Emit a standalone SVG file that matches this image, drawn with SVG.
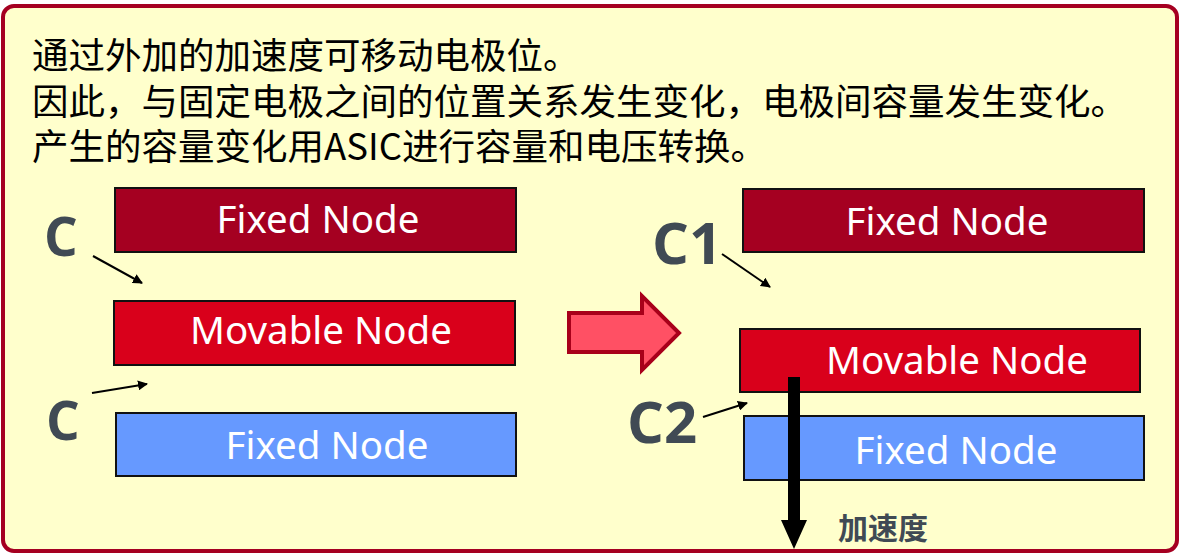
<svg xmlns="http://www.w3.org/2000/svg" width="1182" height="556" viewBox="0 0 1182 556">
  <defs>
    <marker id="tip" viewBox="0 0 10 10" refX="9" refY="5" markerWidth="5" markerHeight="5" markerUnits="strokeWidth" orient="auto">
      <path d="M0,0 L10,5 L0,10 z" fill="#000"/>
    </marker>
    <style>
      .frame { fill: #ffffcc; stroke: #a50021; stroke-width: 4; }
      .note { font-family: "Noto Sans CJK SC", "Noto Sans", sans-serif; font-size: 36.5px; fill: #000; }
      .box { stroke: #111; stroke-width: 2; }
      .fixed-top { fill: #a50021; }
      .movable { fill: #d9001b; }
      .fixed-bottom { fill: #6699ff; }
      .label { font-family: "Noto Sans", "Open Sans", sans-serif; font-size: 38.5px; fill: #fff; text-anchor: middle; }
      .cap { font-family: "Open Sans", "Noto Sans", sans-serif; font-weight: bold; fill: #404a54; }
      .lead { stroke: #000; stroke-width: 2; fill: none; marker-end: url(#tip); }
      .accel { font-family: "Noto Sans CJK SC", sans-serif; font-weight: bold; font-size: 30px; fill: #404a54; }
    </style>
  </defs>

  <rect x="0" y="0" width="1182" height="556" fill="#fff"/>
  <!-- outer panel -->
  <rect class="frame" x="3" y="6" width="1174" height="545" rx="11" ry="11"/>

  <!-- explanation text -->
  <g id="notes">
    <text class="note" x="32" y="69">通过外加的加速度可移动电极位。<tspan x="32" dy="45.5">因此，与固定电极之间的位置关系发生变化，电极间容量发生变化。</tspan><tspan x="32" dy="45.5">产生的容量变化用ASIC进行容量和电压转换。</tspan></text>
  </g>

  <!-- rest position -->
  <g id="rest-fixed-top">
    <rect class="box fixed-top" x="115" y="188" width="401" height="64"/>
    <text class="label" x="318" y="233">Fixed Node</text>
  </g>
  <g id="rest-movable">
    <rect class="box movable" x="114" y="301" width="401" height="64"/>
    <text class="label" x="321" y="344">Movable Node</text>
  </g>
  <g id="rest-fixed-bottom">
    <rect class="box fixed-bottom" x="116" y="413" width="400" height="63"/>
    <text class="label" x="327" y="459">Fixed Node</text>
  </g>
  <g id="rest-c-top"><text class="cap" x="44" y="256" font-size="53">C</text></g>
  <g id="rest-c-bottom"><text class="cap" x="46" y="440" font-size="53">C</text></g>

  <!-- transition arrow -->
  <g id="transition">
    <polygon points="569,313 642,313 642,296 679,333 642,370 642,352 569,352" fill="#ff5064" stroke="#a8001a" stroke-width="4" stroke-linejoin="miter"/>
  </g>

  <!-- displaced position -->
  <g id="moved-fixed-top">
    <rect class="box fixed-top" x="743" y="189" width="401" height="63"/>
    <text class="label" x="947" y="235">Fixed Node</text>
  </g>
  <g id="moved-movable">
    <rect class="box movable" x="740" y="329" width="400" height="63"/>
    <text class="label" x="957" y="374">Movable Node</text>
  </g>
  <g id="moved-fixed-bottom">
    <rect class="box fixed-bottom" x="744" y="416" width="400" height="64"/>
    <text class="label" x="956" y="464">Fixed Node</text>
  </g>
  <g id="c1"><text class="cap" x="652" y="264" font-size="58">C1</text></g>
  <g id="c2"><text class="cap" x="627" y="443" font-size="58">C2</text></g>
  <g id="accel-label"><text class="accel" x="838" y="539">加速度</text></g>

  <!-- connectors -->
  <g id="connectors">
    <line class="lead" x1="93" y1="256" x2="142" y2="283"/>
    <line class="lead" x1="92" y1="393" x2="147" y2="384"/>
    <line class="lead" x1="722" y1="254" x2="770" y2="287"/>
    <line class="lead" x1="703" y1="417" x2="747" y2="403"/>
    <!-- acceleration direction -->
    <polygon points="788,377 800,377 800,520 807,520 794,549 781,520 788,520" fill="#000"/>
  </g>
</svg>
